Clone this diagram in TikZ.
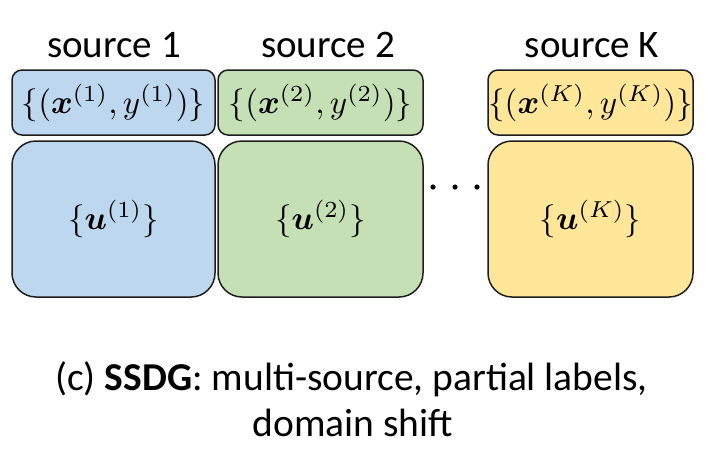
\RequirePackage{fix-cm}
\documentclass[tikz,border=0pt]{standalone}
\usepackage{amsmath}
\usepackage{graphicx}
\usepackage[no-math]{fontspec}
\setmainfont{Carlito}
\definecolor{cblue}{HTML}{BDD7EE}
\definecolor{cgreen}{HTML}{C5E0B4}
\definecolor{cyellow}{HTML}{FFE699}
\definecolor{cedge}{HTML}{1E1E1E}
\newcommand{\bigmath}[1]{\scalebox{3.3}{\fontsize{10}{12}\selectfont$#1$}}
\tikzset{
  topbox/.style={draw=cedge, line width=1.5pt, rounded corners=10pt, minimum height=65pt, inner sep=0pt},
  botbox/.style={draw=cedge, line width=1.5pt, rounded corners=24pt, minimum height=156pt, inner sep=0pt},
  title/.style={font=\fontsize{39}{46}\selectfont, anchor=base, inner sep=0pt},
  captxt/.style={font=\fontsize{39.5}{46}\selectfont, align=center, inner sep=0pt, anchor=base}
}
\begin{document}
\begin{tikzpicture}[x=1pt,y=-1pt]
\useasboundingbox (0,0) rectangle (706,448);
% source 1
\node[topbox, fill=cblue, minimum width=203pt] (t1) at (113.5,102.5) {\bigmath{\{(\boldsymbol{x}^{(1)},y^{(1)})\}}};
\node[botbox, fill=cblue, minimum width=203pt] (b1) at (113.5,219) {\bigmath{\{\boldsymbol{u}^{(1)}\}}};
% source 2
\node[topbox, fill=cgreen, minimum width=205pt] (t2) at (320.5,102.5) {\bigmath{\{(\boldsymbol{x}^{(2)},y^{(2)})\}}};
\node[botbox, fill=cgreen, minimum width=205pt] (b2) at (320.5,219) {\bigmath{\{\boldsymbol{u}^{(2)}\}}};
% source K
\node[topbox, fill=cyellow, minimum width=205pt] (tK) at (590.5,102.5) {\bigmath{\{(\boldsymbol{x}^{(K)},y^{(K)})\}}};
\node[botbox, fill=cyellow, minimum width=205pt] (bK) at (590.5,219) {\bigmath{\{\boldsymbol{u}^{(K)}\}}};
% titles
\node[title] (s1) at (114,57) {source 1};
\node[title] (s2) at (328,57) {source 2};
\node[title] (sK) at (592,57) {source K};
% dots
\fill[black] (433,187) circle (2.6pt) (455,187) circle (2.6pt) (477,187) circle (2.6pt);
% caption
\node[captxt] (cap1) at (351.5,390) {(c) \textbf{SSDG}: multi-source, partial labels,};
\node[captxt] (cap2) at (353,436) {domain shift};
\end{tikzpicture}
\end{document}
